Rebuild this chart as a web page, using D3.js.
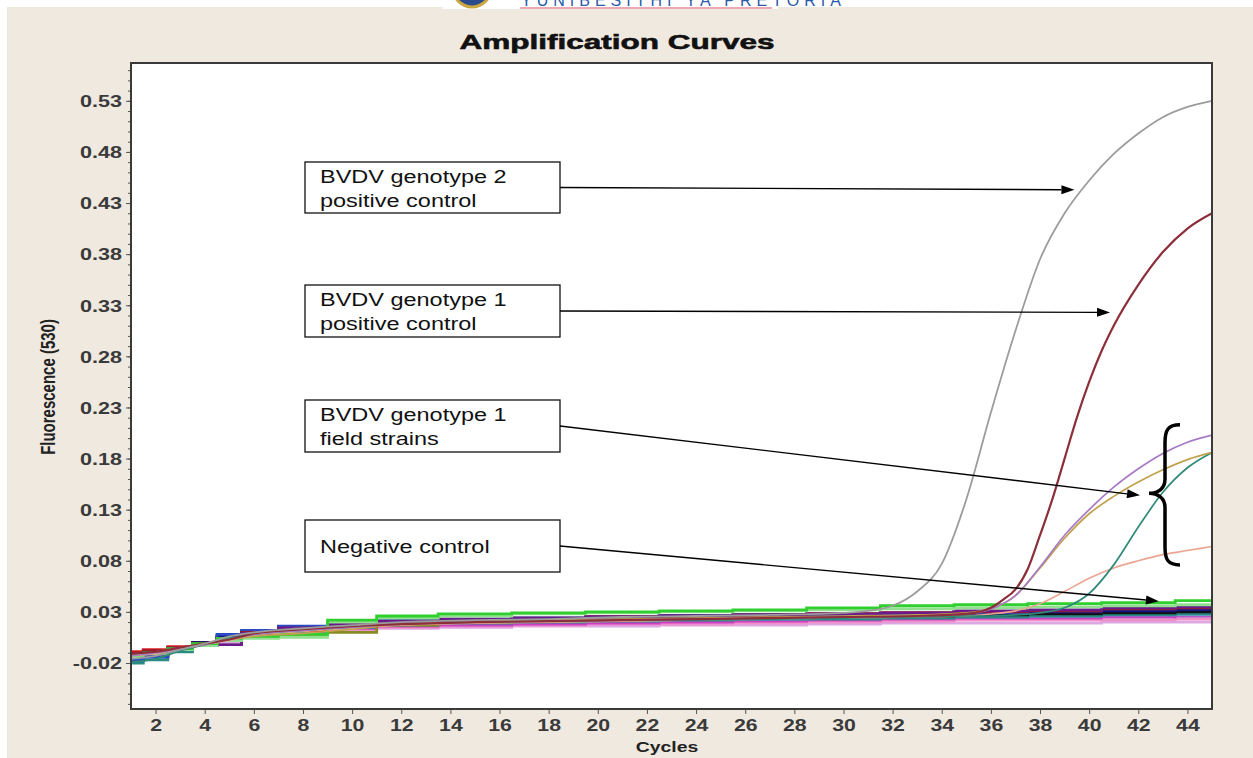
<!DOCTYPE html>
<meta charset="utf-8">
<style>
    body { margin: 0; background: #ffffff; }
    text { font-family: "Liberation Sans", Arial, sans-serif; }
</style>
<body>
<div id="chart"></div>
<script src="https://d3js.org/d3.v7.min.js"></script>
<script>
// ---- data ----
var cycleTicks = [2, 4, 6, 8, 10, 12, 14, 16, 18, 20, 22, 24, 26, 28, 30, 32, 34, 36, 38, 40, 42, 44];
var fluorTicks = [-0.02, 0.03, 0.08, 0.13, 0.18, 0.23, 0.28, 0.33, 0.38, 0.43, 0.48, 0.53];
var fluorTickLabels = ["-0.02", "0.03", "0.08", "0.13", "0.18", "0.23", "0.28", "0.33", "0.38", "0.43", "0.48", "0.53"];

// flat (non amplifying) wells, read at these cycles
var baseCycles = [1, 2, 3, 4, 5, 6, 8, 10, 12, 15, 18, 21, 24, 27, 30, 33, 36, 39, 42, 45];
var greenVals     = [-0.012, -0.010, -0.006, -0.001, 0.004, 0.006, 0.008, 0.022, 0.026, 0.028, 0.029, 0.030, 0.031, 0.032, 0.034, 0.036, 0.037, 0.038, 0.039, 0.041];
var lightGreenVals= [-0.014, -0.011, -0.007, -0.003, 0.002, 0.004, 0.005, 0.020, 0.024, 0.026, 0.028, 0.029, 0.030, 0.031, 0.032, 0.033, 0.034, 0.035, 0.036, 0.037];
var redVals       = [-0.009, -0.007, -0.004, 0.000, 0.004, 0.008, 0.012, 0.016, 0.019, 0.021, 0.022, 0.023, 0.024, 0.025, 0.026, 0.027, 0.028, 0.030, 0.031, 0.032];
var darkRedVals   = [-0.010, -0.008, -0.005, -0.001, 0.003, 0.010, 0.014, 0.018, 0.020, 0.022, 0.023, 0.025, 0.025, 0.026, 0.028, 0.029, 0.030, 0.031, 0.033, 0.034];
var navyVals      = [-0.014, -0.012, -0.006, 0.000, 0.006, 0.011, 0.015, 0.017, 0.021, 0.022, 0.024, 0.025, 0.026, 0.027, 0.027, 0.028, 0.029, 0.030, 0.031, 0.032];
var blueVals      = [-0.017, -0.014, -0.007, -0.002, 0.008, 0.012, 0.016, 0.019, 0.022, 0.023, 0.024, 0.024, 0.026, 0.026, 0.027, 0.028, 0.029, 0.031, 0.033, 0.034];
var blackVals     = [-0.015, -0.012, -0.006, 0.000, 0.005, 0.011, 0.015, 0.016, 0.020, 0.021, 0.022, 0.023, 0.024, 0.025, 0.026, 0.026, 0.027, 0.028, 0.029, 0.030];
var greyVals      = [-0.016, -0.013, -0.006, 0.000, 0.005, 0.010, 0.014, 0.017, 0.020, 0.022, 0.023, 0.024, 0.025, 0.026, 0.026, 0.027, 0.027, 0.027, 0.028, 0.028];
var magentaVals   = [-0.013, -0.011, -0.007, -0.002, 0.002, 0.008, 0.012, 0.014, 0.016, 0.017, 0.018, 0.019, 0.020, 0.021, 0.022, 0.023, 0.024, 0.024, 0.025, 0.026];
var pinkVals      = [-0.012, -0.010, -0.006, -0.002, 0.002, 0.007, 0.011, 0.013, 0.015, 0.016, 0.017, 0.018, 0.018, 0.019, 0.020, 0.021, 0.022, 0.022, 0.022, 0.023];
var lavenderVals  = [-0.014, -0.012, -0.008, -0.003, 0.001, 0.006, 0.010, 0.012, 0.014, 0.015, 0.016, 0.016, 0.017, 0.017, 0.018, 0.019, 0.019, 0.019, 0.020, 0.020];
var purpleVals2   = [-0.012, -0.010, -0.006, -0.003, -0.002, 0.009, 0.014, 0.018, 0.021, 0.023, 0.024, 0.025, 0.026, 0.027, 0.028, 0.029, 0.031, 0.032, 0.034, 0.035];
var tealVals2     = [-0.020, -0.017, -0.009, -0.002, 0.004, 0.008, 0.011, 0.015, 0.017, 0.019, 0.020, 0.021, 0.022, 0.023, 0.023, 0.024, 0.025, 0.026, 0.027, 0.028];
var oliveVals2    = [-0.011, -0.009, -0.005, -0.001, 0.003, 0.006, 0.008, 0.010, 0.017, 0.020, 0.022, 0.024, 0.025, 0.026, 0.027, 0.028, 0.029, 0.030, 0.031, 0.032];
var brownVals     = [-0.010, -0.008, -0.005, -0.001, 0.004, 0.009, 0.013, 0.017, 0.020, 0.022, 0.024, 0.025, 0.026, 0.027, 0.028, 0.029, 0.030, 0.031, 0.032, 0.033];
var orangeVals    = [-0.012, -0.010, -0.006, -0.001, 0.003, 0.008, 0.012, 0.016, 0.019, 0.021, 0.023, 0.024, 0.026, 0.027, 0.028, 0.029, 0.030, 0.031, 0.031, 0.032];
var lightBlueVals = [-0.018, -0.015, -0.008, -0.001, 0.007, 0.011, 0.014, 0.017, 0.019, 0.020, 0.021, 0.022, 0.023, 0.023, 0.024, 0.025, 0.026, 0.026, 0.027, 0.027];
var silverVals    = [-0.015, -0.013, -0.008, -0.003, 0.002, 0.007, 0.011, 0.014, 0.017, 0.018, 0.019, 0.020, 0.021, 0.021, 0.022, 0.023, 0.023, 0.024, 0.025, 0.025];

// genotype 2 positive control
var g2Cycles = [1, 2, 3, 4, 5, 6, 8, 10, 12, 15, 18, 21, 24, 27, 30, 31, 32, 33, 34, 35, 36, 37, 38, 39, 40, 41, 42, 43, 44, 45];
var g2Vals   = [-0.016, -0.013, -0.007, -0.001, 0.006, 0.010, 0.014, 0.017, 0.020, 0.022, 0.023, 0.025, 0.026, 0.027, 0.029, 0.031, 0.036, 0.050, 0.077, 0.140, 0.225, 0.305, 0.375, 0.420, 0.452, 0.478, 0.498, 0.514, 0.524, 0.530];

// genotype 1 positive control
var g1Cycles = [1, 2, 3, 4, 5, 6, 8, 10, 12, 15, 18, 21, 24, 27, 30, 33, 35, 36, 36.5, 37, 37.5, 38, 38.5, 39, 39.5, 40, 40.5, 41, 42, 43, 44, 45];
var g1Vals   = [-0.011, -0.009, -0.005, -0.001, 0.003, 0.009, 0.013, 0.016, 0.018, 0.020, 0.021, 0.022, 0.023, 0.024, 0.025, 0.026, 0.028, 0.034, 0.042, 0.052, 0.072, 0.105, 0.140, 0.180, 0.220, 0.255, 0.285, 0.310, 0.350, 0.382, 0.405, 0.420];

// genotype 1 field strains
var fieldCycles = [1, 2, 3, 4, 5, 6, 8, 10, 12, 15, 18, 21, 24, 27, 30, 33, 35, 36, 37, 38, 39, 40, 41, 42, 43, 44, 45];
var purpleVals  = [-0.013, -0.010, -0.006, -0.002, 0.003, 0.008, 0.012, 0.015, 0.018, 0.020, 0.021, 0.022, 0.023, 0.024, 0.025, 0.026, 0.028, 0.033, 0.046, 0.074, 0.105, 0.130, 0.152, 0.170, 0.185, 0.196, 0.203];
var oliveVals   = [-0.012, -0.009, -0.005, -0.001, 0.003, 0.006, 0.009, 0.013, 0.018, 0.020, 0.022, 0.023, 0.024, 0.025, 0.026, 0.027, 0.029, 0.033, 0.046, 0.073, 0.102, 0.126, 0.143, 0.157, 0.169, 0.179, 0.186];
var tealVals    = [-0.019, -0.016, -0.008, -0.002, 0.004, 0.008, 0.012, 0.015, 0.018, 0.020, 0.021, 0.022, 0.022, 0.023, 0.024, 0.025, 0.026, 0.026, 0.027, 0.029, 0.034, 0.048, 0.076, 0.113, 0.147, 0.171, 0.186];
var salmonVals  = [-0.013, -0.011, -0.006, -0.002, 0.002, 0.007, 0.011, 0.014, 0.017, 0.019, 0.020, 0.021, 0.022, 0.023, 0.024, 0.025, 0.026, 0.028, 0.031, 0.038, 0.050, 0.063, 0.073, 0.080, 0.086, 0.090, 0.094];

// annotation labels and where their arrows point (cycle, fluorescence)
var noteLines   = [["BVDV genotype 2", "positive control"], ["BVDV genotype 1", "positive control"], ["BVDV genotype 1", "field strains"], ["Negative control"]];
var noteTargets = [[39.4, 0.443], [40.85, 0.323], [42.07, 0.144], [42.84, 0.0405]];

// ---- layout ----
var width = 1253, height = 758;
var plot = {left: 131, top: 63, right: 1212, bottom: 709};

var svg = d3.select("#chart").append("svg")
    .attr("width", width)
    .attr("height", height);

var x = d3.scaleLinear().domain([1, 45]).range([plot.left, plot.right]);
var y = d3.scaleLinear().domain([-0.065, 0.567]).range([plot.bottom, plot.top]);

// beige panel
svg.append("rect").attr("x", 7).attr("y", 7).attr("width", width - 7).attr("height", height - 7).attr("fill", "#efe9e0");

// cut-off logo strip at the top
var logo = svg.append("g");
logo.append("rect").attr("x", 443).attr("y", 0).attr("width", 335).attr("height", 9).attr("fill", "#ffffff");
logo.append("circle").attr("cx", 472).attr("cy", -12).attr("r", 19).attr("fill", "#2b4a8c").attr("stroke", "#c9a640").attr("stroke-width", 3);
logo.append("text").attr("x", 521).attr("y", 6).attr("font-size", 16).attr("letter-spacing", 5)
    .attr("fill", "#2a5aa8").text("YUNIBESITHI YA PRETORIA");
logo.append("line").attr("x1", 520).attr("x2", 772).attr("y1", 8).attr("y2", 8).attr("stroke", "#d9536a").attr("stroke-width", 1.2);

// stretched text helper (the original picture is widened)
function stretchText(g, px, py, str, size, sx, anchor, weight) {
    return g.append("text")
        .attr("transform", "translate(" + px + "," + py + ") scale(" + sx + ",1)")
        .attr("text-anchor", anchor)
        .attr("font-size", size)
        .attr("font-weight", weight)
        .text(str);
}

// title
stretchText(svg, 617, 49, "Amplification Curves", 21, 1.5, "middle", "bold")
    .attr("fill", "#111").attr("stroke", "#111").attr("stroke-width", 0.6);

// plot box
svg.append("rect")
    .attr("x", plot.left).attr("y", plot.top)
    .attr("width", plot.right - plot.left).attr("height", plot.bottom - plot.top)
    .attr("fill", "#ffffff");

// axes
var yMinor = d3.range(-6, 57).map(function(i) { return i / 100; });
svg.append("g").attr("class", "minor")
    .attr("transform", "translate(" + plot.left + ",0)")
    .call(d3.axisLeft(y).tickValues(yMinor).tickSize(3).tickFormat(""));

var yAxis = svg.append("g")
    .attr("transform", "translate(" + plot.left + ",0)")
    .call(d3.axisLeft(y).tickValues(fluorTicks).tickSize(5)
        .tickFormat(function(d, i) { return fluorTickLabels[i]; }));

var xAxis = svg.append("g")
    .attr("transform", "translate(0," + plot.bottom + ")")
    .call(d3.axisBottom(x).tickValues(cycleTicks).tickSize(5));

svg.selectAll(".domain").remove();
svg.selectAll(".tick line").attr("stroke", "#555");

yAxis.selectAll("text")
    .attr("x", null).attr("dy", "0.36em")
    .attr("transform", "translate(-9,0) scale(1.35,1)")
    .attr("font-size", 16).attr("font-weight", "bold")
    .attr("font-family", "Liberation Sans, Arial, sans-serif")
    .attr("fill", "#3a3a3a");

xAxis.selectAll("text")
    .attr("y", null).attr("dy", "0.71em")
    .attr("transform", "translate(0,10) scale(1.25,1)")
    .attr("font-size", 17).attr("font-weight", "bold")
    .attr("font-family", "Liberation Sans, Arial, sans-serif")
    .attr("fill", "#3a3a3a");

// axis titles
svg.append("text")
    .attr("transform", "translate(55,387) scale(1.3,1) rotate(-90)")
    .attr("text-anchor", "middle").attr("font-size", 15).attr("font-weight", "bold")
    .attr("fill", "#222").text("Fluorescence (530)");

stretchText(svg, 667, 752, "Cycles", 15.5, 1.25, "middle", "bold").attr("fill", "#222");

// curves
svg.append("clipPath").attr("id", "clip")
    .append("rect").attr("x", plot.left).attr("y", plot.top)
    .attr("width", plot.right - plot.left).attr("height", plot.bottom - plot.top);

var curves = svg.append("g").attr("clip-path", "url(#clip)");

var flatSeries = [
    {vals: lavenderVals,   color: "#dba8e4"},
    {vals: silverVals,     color: "#c8c8c8"},
    {vals: pinkVals,       color: "#f090c8"},
    {vals: magentaVals,    color: "#cc3fc4"},
    {vals: lightBlueVals,  color: "#6fa3d8"},
    {vals: greyVals,       color: "#a4a4a4"},
    {vals: tealVals2,      color: "#2a8a86"},
    {vals: oliveVals2,     color: "#8a8a22"},
    {vals: orangeVals,     color: "#e47a30"},
    {vals: brownVals,      color: "#8b4a1a"},
    {vals: redVals,        color: "#dd2020"},
    {vals: blackVals,      color: "#111111"},
    {vals: navyVals,       color: "#14147c"},
    {vals: blueVals,       color: "#2a4ac8"},
    {vals: darkRedVals,    color: "#9a1a2a"},
    {vals: purpleVals2,    color: "#6a1a8a"},
    {vals: lightGreenVals, color: "#90e090"},
    {vals: greenVals,      color: "#2fcf2f"}
];

var stepLine = d3.line()
    .x(function(d) { return x(d[0]); })
    .y(function(d) { return y(d[1]); })
    .curve(d3.curveStep);

flatSeries.forEach(function(s) {
    curves.append("path")
        .attr("d", stepLine(baseCycles.map(function(c, i) { return [c, s.vals[i]]; })))
        .attr("fill", "none").attr("stroke", s.color).attr("stroke-width", 2.8);
});

var ampSeries = [
    {cycles: fieldCycles, vals: salmonVals, color: "#eba592", w: 1.6},
    {cycles: fieldCycles, vals: tealVals,   color: "#2f8a78", w: 1.7},
    {cycles: fieldCycles, vals: oliveVals,  color: "#c2a24e", w: 1.7},
    {cycles: fieldCycles, vals: purpleVals, color: "#a77ac6", w: 1.7},
    {cycles: g1Cycles,    vals: g1Vals,     color: "#8c2f3a", w: 2.2},
    {cycles: g2Cycles,    vals: g2Vals,     color: "#9c9c9c", w: 1.8}
];

var smoothLine = d3.line()
    .x(function(d) { return x(d[0]); })
    .y(function(d) { return y(d[1]); })
    .curve(d3.curveMonotoneX);

ampSeries.forEach(function(s) {
    curves.append("path")
        .attr("d", smoothLine(s.cycles.map(function(c, i) { return [c, s.vals[i]]; })))
        .attr("fill", "none").attr("stroke", s.color).attr("stroke-width", s.w);
});

// frame on top
svg.append("rect")
    .attr("x", plot.left).attr("y", plot.top)
    .attr("width", plot.right - plot.left).attr("height", plot.bottom - plot.top)
    .attr("fill", "none").attr("stroke", "#3a3a3a").attr("stroke-width", 2);

// annotations
var boxes = [{top: 162, h: 51}, {top: 285, h: 52}, {top: 400, h: 52}, {top: 520, h: 52}];
var boxLeft = 305, boxRight = 560;
var notes = svg.append("g");

boxes.forEach(function(b, i) {
    notes.append("rect")
        .attr("x", boxLeft).attr("y", b.top)
        .attr("width", boxRight - boxLeft).attr("height", b.h)
        .attr("fill", "#ffffff").attr("stroke", "#111").attr("stroke-width", 1.3);

    var lines = noteLines[i];
    lines.forEach(function(t, j) {
        var base = lines.length === 1 ? b.top + b.h / 2 + 7 : b.top + 21 + j * 24;
        stretchText(notes, 320, base, t, 18.5, 1.27, "start", "normal").attr("fill", "#111");
    });

    // arrow from box edge to target
    var x0 = boxRight, y0 = b.top + b.h / 2;
    var x1 = x(noteTargets[i][0]), y1 = y(noteTargets[i][1]);
    var ang = Math.atan2(y1 - y0, x1 - x0);
    var headL = 13, headW = 4.5;
    var bx = x1 - headL * Math.cos(ang), by = y1 - headL * Math.sin(ang);
    notes.append("line")
        .attr("x1", x0).attr("y1", y0).attr("x2", bx).attr("y2", by)
        .attr("stroke", "#000").attr("stroke-width", 1.4);
    notes.append("polygon")
        .attr("points", [
            [x1, y1],
            [bx + headW * Math.sin(ang), by - headW * Math.cos(ang)],
            [bx - headW * Math.sin(ang), by + headW * Math.cos(ang)]
        ].map(function(p) { return p.join(","); }).join(" "))
        .attr("fill", "#000");
});

// curly bracket grouping the field strains
var bTop = y(0.213), bBot = y(0.076), bMid = y(0.146);
var bx0 = 1180, bx1 = 1165, bTip = 1149;
notes.append("path")
    .attr("d", "M" + bx0 + "," + bTop +
        " C" + (bx1 + 3) + "," + bTop + " " + bx1 + "," + (bTop + 5) + " " + bx1 + "," + (bTop + 18) +
        " L" + bx1 + "," + (bMid - 14) +
        " C" + bx1 + "," + (bMid - 4) + " " + (bTip + 8) + "," + bMid + " " + bTip + "," + bMid +
        " C" + (bTip + 8) + "," + bMid + " " + bx1 + "," + (bMid + 4) + " " + bx1 + "," + (bMid + 14) +
        " L" + bx1 + "," + (bBot - 18) +
        " C" + bx1 + "," + (bBot - 5) + " " + (bx1 + 3) + "," + bBot + " " + bx0 + "," + bBot)
    .attr("fill", "none").attr("stroke", "#000").attr("stroke-width", 3.5);
</script>
</body>
